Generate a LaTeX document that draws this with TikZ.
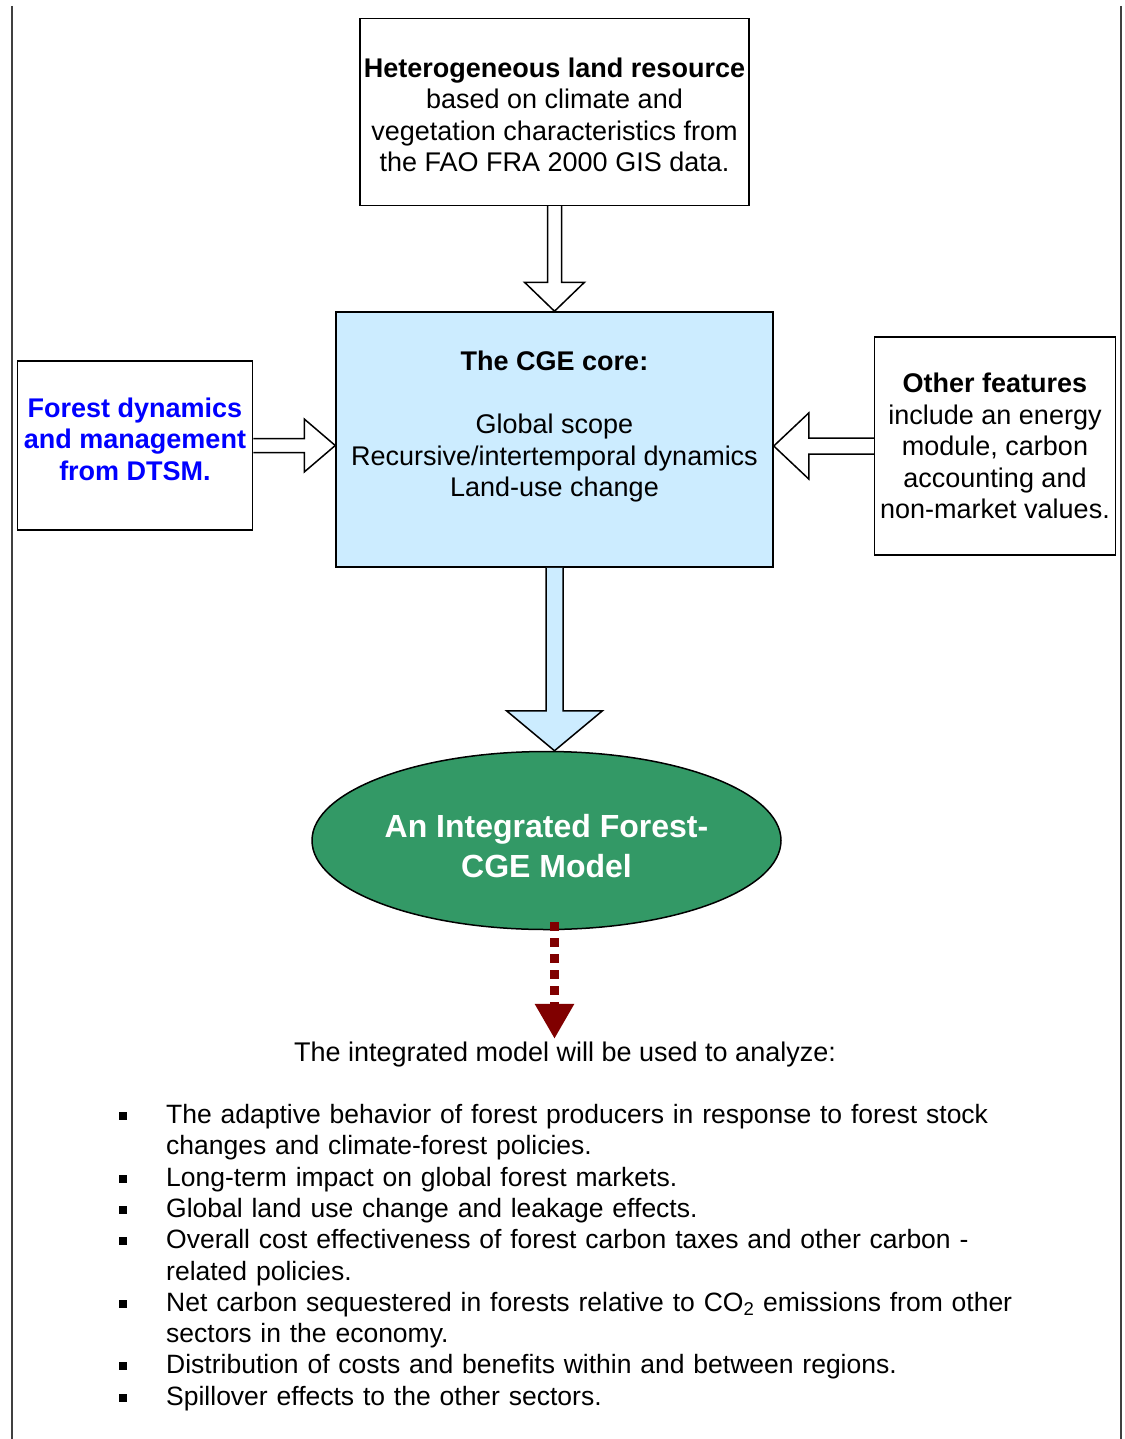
\documentclass[tikz,border=0pt]{standalone}
\usepackage{fontspec}
\setmainfont{Liberation Sans}
\usepackage{xcolor}
\usepackage{tikz}
\usetikzlibrary{shapes.geometric, arrows.meta, positioning, calc}
\definecolor{coreblue}{HTML}{CCECFF}
\definecolor{modelgreen}{HTML}{339966}
\definecolor{dtsmblue}{HTML}{0000FF}
\definecolor{usesred}{HTML}{800000}
\definecolor{pageline}{HTML}{404040}

\begin{document}
\begin{tikzpicture}[
    x=1pt, y=1pt,
    every node/.style={font=\fontsize{27}{31.5}\selectfont},
    infobox/.style={rectangle, draw=black, fill=#1, line width=1.5pt, align=center, inner sep=2pt},
    infobox/.default=white,
    modelnode/.style={ellipse, draw=black, fill=modelgreen, line width=1.5pt, inner sep=0pt, align=center, text=white, font=\bfseries\fontsize{32}{40}\selectfont},
    blockarrow/.style={draw=black, fill=#1, line width=1.5pt, line join=miter},
    dotarrow/.style={draw=usesred, line width=9.5pt, dash pattern=on 9pt off 7pt, -{Triangle[width=37pt,length=35pt]}},
]
\useasboundingbox (0,0) rectangle (1124,-1439);
\draw[pageline, line width=2pt] (12,-6) -- (12,-1439) (1121,-6) -- (1121,-1439);

\node[infobox=coreblue, minimum width=437pt, minimum height=255pt] (cge) at (554.5,-439.5) {\textbf{The CGE core:}\\ \mbox{}\\ Global scope\\ Recursive/intertemporal dynamics\\ Land-use change\\ \mbox{}};
\node[infobox, minimum width=389pt, minimum height=187pt, above=105pt of cge] (land) {\mbox{}\\[-6.5pt] \textbf{Heterogeneous land resource}\\ based on climate and\\ vegetation characteristics from\\ the FAO FRA 2000 GIS data.};
\node[infobox, minimum width=235pt, minimum height=169pt, left=82pt of cge, yshift=-6pt, text=dtsmblue, font=\bfseries\fontsize{27}{31.5}\selectfont] (dtsm) {Forest dynamics\\ and management\\ from DTSM.\\[-18pt] \mbox{}};
\node[infobox, minimum width=241pt, minimum height=218pt, right=100pt of cge, yshift=-6.5pt] (other) {\textbf{Other features}\\ include an energy\\ module, carbon\\ accounting and\\ non-market values.};
\node[modelnode, minimum width=469pt, minimum height=178pt, below=183pt of cge, xshift=-8pt] (model) {\mbox{}\\[-5pt] An Integrated Forest-\\ CGE Model};

\node (intro) at (565,-1055) {The integrated model will be used to analyze:};
\node[anchor=north west, text width=960pt, inner sep=0pt, font=\fontsize{26.5}{31.3}\selectfont] (uses) at (119,-1092) {%
\setlength{\parskip}{0pt}%
\begin{list}{\rule[3.5pt]{8pt}{8pt}}{\setlength{\leftmargin}{47pt}\setlength{\labelwidth}{8pt}\setlength{\labelsep}{39pt}%
\setlength{\itemsep}{0pt}\setlength{\parsep}{0pt}\setlength{\topsep}{0pt}\setlength{\partopsep}{0pt}}
\item The adaptive behavior of forest producers in response to forest stock\\ changes and climate-forest policies.
\item Long-term impact on global forest markets.
\item Global land use change and leakage effects.
\item Overall cost effectiveness of forest carbon taxes and other carbon -\\ related policies.
\item Net carbon sequestered in forests relative to CO\textsubscript{2} emissions from other\\ sectors in the economy.
\item Distribution of costs and benefits within and between regions.
\item Spillover effects to the other sectors.
\end{list}};

\coordinate (ltip) at (dtsm.east -| cge.west);
\coordinate (rtip) at (other.west -| cge.east);
\coordinate (dtip) at (cge.south |- model.north);

\draw[blockarrow=white] ($(land.south)+(-7,0)$) -- ($(cge.north)+(-7,29)$) -- ++(-23,0) -- (cge.north) -- ++(30,29) -- ++(-23,0) -- ($(land.south)+(7,0)$);
\draw[blockarrow=white] ($(dtsm.east)+(0,7)$) -- ($(ltip)+(-31,7)$) -- ++(0,19.5) -- (ltip) -- ++(-31,-26.5) -- ++(0,19.5) -- ($(dtsm.east)+(0,-7)$);
\draw[blockarrow=white] ($(other.west)+(0,8)$) -- ($(rtip)+(35,8)$) -- ++(0,25) -- (rtip) -- ++(35,-33) -- ++(0,25) -- ($(other.west)+(0,-8)$);
\draw[blockarrow=coreblue] ($(cge.south)+(-8.5,0)$) -- ($(dtip)+(-8.5,40)$) -- ++(-39.5,0) -- (dtip) -- ++(48,40) -- ++(-39.5,0) -- ($(cge.south)+(8.5,0)$);
\draw[dotarrow] ($(dtip |- model.south)+(0,8)$) -- (dtip |- intro.north);

\end{tikzpicture}
\end{document}
